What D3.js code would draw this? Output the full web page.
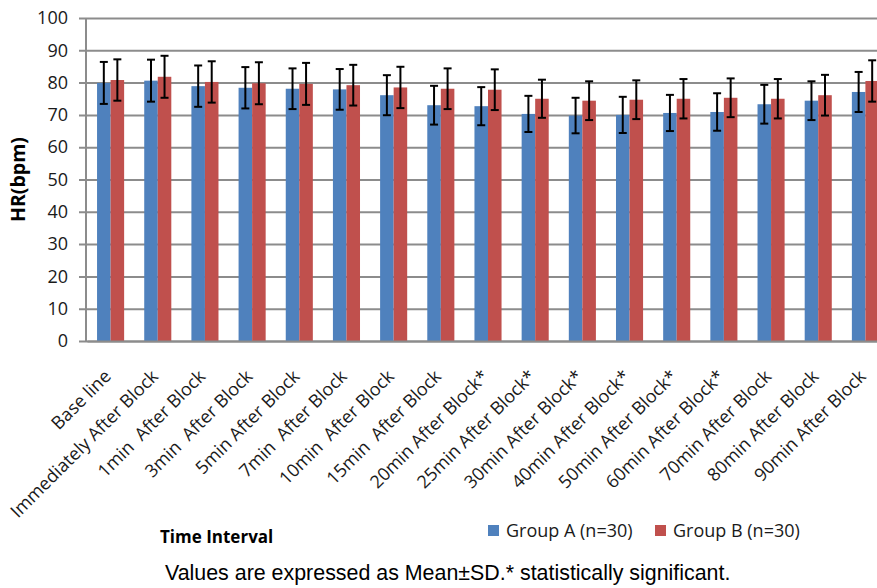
<!DOCTYPE html>
<html>
<head>
<meta charset="utf-8">
<script src="https://cdn.jsdelivr.net/npm/d3@7"></script>
<style>
  body { margin: 0; background: #fff; }
  svg { display: block; }
</style>
</head>
<body>
<svg id="chart"></svg>
<script>
const categories = [
  "Base line", "Immediately After Block", "1min  After Block", "3min  After Block",
  "5min After Block", "7min  After Block", "10min  After Block", "15min  After Block",
  "20min After Block*", "25min After Block*", "30min After Block*", "40min After Block*",
  "50min After Block*", "60min After Block*", "70min After Block", "80min After Block",
  "90min After Block"
];
const groups = ["Group A (n=30)", "Group B (n=30)"];
const meanA = [79.9, 80.6, 78.9, 78.4, 78.1, 77.9, 76.1, 73.0, 72.7, 70.3, 69.8, 70.0, 70.6, 70.9, 73.3, 74.4, 77.1];
const sdA   = [6.5, 6.5, 6.4, 6.4, 6.3, 6.3, 6.2, 6.0, 5.9, 5.6, 5.5, 5.6, 5.6, 5.8, 6.0, 6.0, 6.2];
const meanB = [80.8, 81.8, 80.2, 79.8, 79.6, 79.2, 78.5, 78.1, 77.8, 75.0, 74.4, 74.7, 75.0, 75.3, 75.0, 76.1, 80.5];
const sdB   = [6.4, 6.5, 6.4, 6.5, 6.5, 6.3, 6.4, 6.3, 6.3, 5.9, 6.0, 6.0, 6.1, 6.0, 6.1, 6.3, 6.4];
const yTicks = [0, 10, 20, 30, 40, 50, 60, 70, 80, 90, 100];
const colors = ["#4F81BD", "#C0504D"];

const width = 877, height = 588;
const svg = d3.select("#chart").attr("width", width).attr("height", height);
const font = "'Open Sans', sans-serif";

const plot = { left: 87, right: 889, top: 18, bottom: 341 };

const x0 = d3.scaleBand().domain(categories).range([plot.left, plot.right]).padding(0);
const x1 = d3.scaleBand().domain(groups)
  .range([x0.bandwidth() * 0.213, x0.bandwidth() * 0.787]);
const y = d3.scaleLinear().domain([0, 100]).range([plot.bottom, plot.top]);

const rows = categories.map((c, i) => ({
  cat: c,
  vals: [
    { g: groups[0], m: meanA[i], sd: sdA[i] },
    { g: groups[1], m: meanB[i], sd: sdB[i] }
  ]
}));

// y gridlines + labels
const yAxis = svg.append("g")
  .attr("transform", `translate(${plot.left - 1},0)`)
  .call(d3.axisLeft(y).tickValues(yTicks).tickSize(-(plot.right - plot.left)).tickSizeOuter(0).tickPadding(18));
yAxis.select(".domain").remove();
yAxis.selectAll(".tick line").attr("x1", -7).attr("stroke", "#8c8c8c").attr("stroke-width", 2);
yAxis.selectAll(".tick text")
  .attr("font-family", font).attr("font-size", 18).attr("fill", "#1a1a1a");

// y axis line
svg.append("line")
  .attr("x1", plot.left - 1).attr("x2", plot.left - 1)
  .attr("y1", y(100)).attr("y2", y(0))
  .attr("stroke", "#8c8c8c").attr("stroke-width", 2);

// bars
const grp = svg.append("g").selectAll("g").data(rows).join("g")
  .attr("transform", d => `translate(${x0(d.cat)},0)`);

grp.selectAll("rect").data(d => d.vals).join("rect")
  .attr("x", d => x1(d.g))
  .attr("y", d => y(d.m))
  .attr("width", x1.bandwidth())
  .attr("height", d => y(0) - y(d.m))
  .attr("fill", (d, i) => colors[i]);

// error bars
const eb = grp.selectAll("g.err").data(d => d.vals).join("g").attr("class", "err")
  .attr("transform", d => `translate(${x1(d.g) + x1.bandwidth() / 2},0)`);
eb.append("line")
  .attr("y1", d => y(d.m + d.sd)).attr("y2", d => y(d.m - d.sd))
  .attr("stroke", "#000").attr("stroke-width", 2);
eb.append("line")
  .attr("x1", -4).attr("x2", 4)
  .attr("y1", d => y(d.m + d.sd)).attr("y2", d => y(d.m + d.sd))
  .attr("stroke", "#000").attr("stroke-width", 2);
eb.append("line")
  .attr("x1", -4).attr("x2", 4)
  .attr("y1", d => y(d.m - d.sd)).attr("y2", d => y(d.m - d.sd))
  .attr("stroke", "#000").attr("stroke-width", 2);

// x axis
const xAxis = svg.append("g")
  .attr("transform", `translate(0,${plot.bottom})`)
  .call(d3.axisBottom(x0).tickSize(0).tickSizeOuter(0));
xAxis.select(".domain").attr("stroke", "#8c8c8c").attr("stroke-width", 2);
xAxis.selectAll(".tick text")
  .attr("font-family", font).attr("font-size", 18).attr("fill", "#1a1a1a")
  .attr("text-anchor", "end")
  .attr("dy", "0.35em")
  .attr("transform", "translate(-3,32) rotate(-45)")
  .attr("y", 0).attr("x", 0)
  .style("white-space", "pre");

// axis titles
svg.append("text")
  .attr("transform", `translate(25,${(plot.top + plot.bottom) / 2 + 0}) rotate(-90)`)
  .attr("text-anchor", "middle")
  .attr("font-family", font).attr("font-weight", "bold").attr("font-size", 19.5)
  .text("HR(bpm)");

svg.append("text")
  .attr("x", 160).attr("y", 543)
  .attr("font-family", font).attr("font-weight", "bold").attr("font-size", 17)
  .text("Time Interval");

// legend
const legend = svg.append("g").selectAll("g").data(groups).join("g")
  .attr("transform", (d, i) => `translate(${488 + i * 167},525)`);
legend.append("rect").attr("width", 11).attr("height", 11).attr("fill", (d, i) => colors[i]);
legend.append("text")
  .attr("x", 18).attr("y", 12)
  .attr("font-family", font).attr("font-size", 18).attr("fill", "#1a1a1a")
  .text(d => d);

// note
svg.append("text")
  .attr("x", 165).attr("y", 580)
  .attr("font-family", "'Liberation Sans', Arial, sans-serif").attr("font-size", 21.4)
  .text("Values are expressed as Mean±SD.* statistically significant.");
</script>
</body>
</html>
